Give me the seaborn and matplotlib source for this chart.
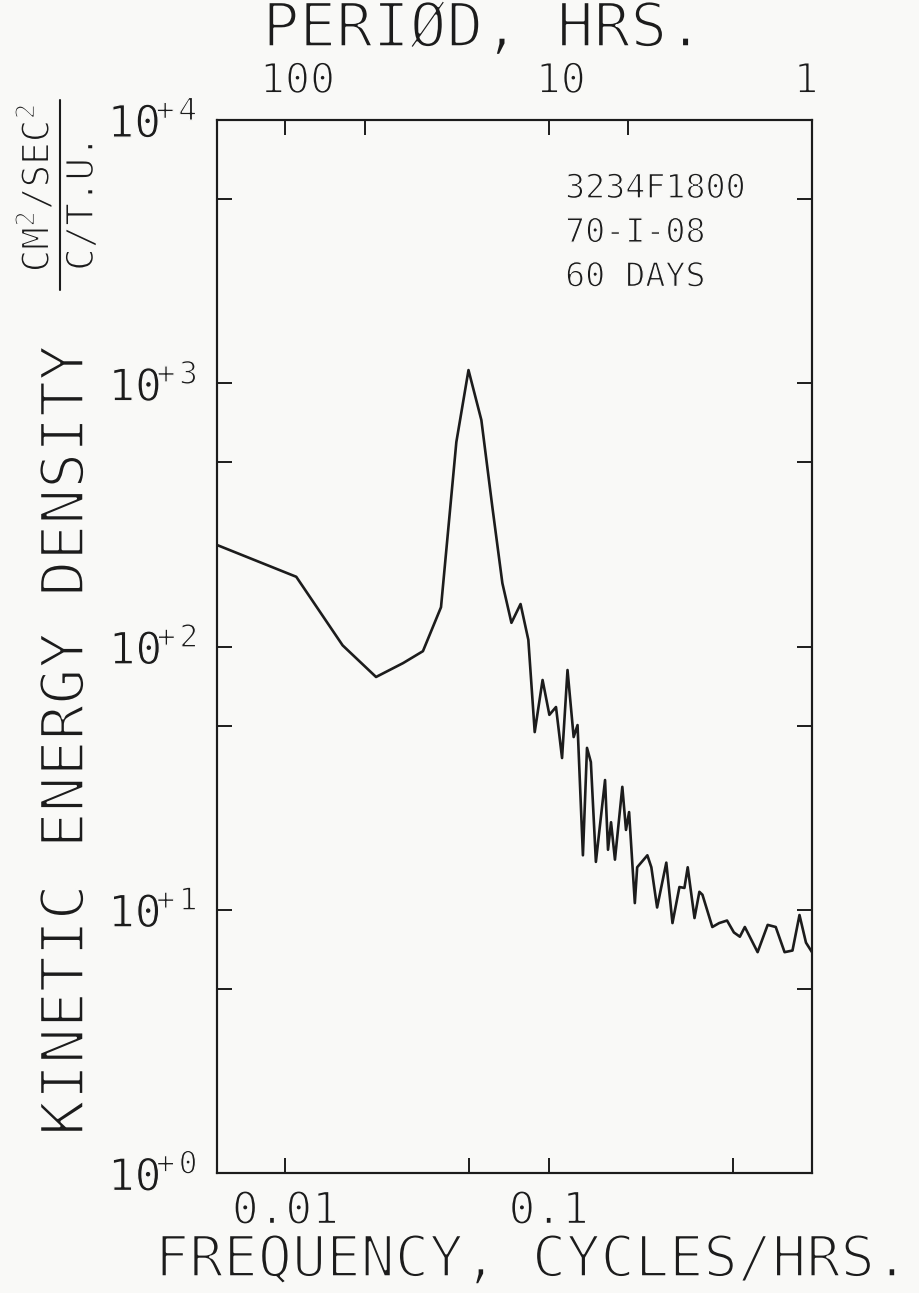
import numpy as np
import pandas as pd
import matplotlib
matplotlib.use("Agg")
import matplotlib.pyplot as plt
import matplotlib.patheffects as pe
import seaborn as sns
from matplotlib.ticker import NullLocator
from matplotlib.lines import Line2D
from matplotlib.transforms import ScaledTranslation

# ---------------- data ----------------
freq = [0.0055, 0.011, 0.0165, 0.0221, 0.028, 0.0333, 0.039, 0.0446, 0.0496,
        0.0555, 0.0611, 0.0667, 0.0722, 0.0782, 0.0837, 0.0885, 0.0948, 0.1006,
        0.1066, 0.1124, 0.1179, 0.1244, 0.1287, 0.1349, 0.1398, 0.1446, 0.1511,
        0.1637, 0.1680, 0.1725, 0.1785, 0.1904, 0.1966, 0.2020, 0.2124, 0.2168,
        0.2370, 0.2454, 0.2581, 0.2797, 0.2952, 0.3137, 0.3277, 0.3373, 0.3579,
        0.3735, 0.3837, 0.4183, 0.4441, 0.4757, 0.5051, 0.5321, 0.5558, 0.6215,
        0.6787, 0.7282, 0.7868, 0.8431, 0.8963, 0.9487, 1.0]
energy = [243, 184, 101, 76.6, 86.5, 96, 141, 598, 1122,
          725, 339, 174, 123, 145, 106, 47.3, 74.6, 55,
          58.9, 37.7, 81.4, 45.3, 50.3, 16.1, 41.2, 36.4, 15.2,
          31.1, 16.9, 21.5, 15.5, 29.3, 20.1, 23.5, 10.6, 14.5,
          16.1, 14.5, 10.2, 15.1, 8.9, 12.2, 12.1, 14.5, 9.3,
          11.7, 11.4, 8.6, 8.9, 9.1, 8.2, 7.9, 8.6, 6.9,
          8.76, 8.6, 6.9, 7.0, 9.55, 7.5, 6.9]

x_ticks = [0.01, 0.05, 0.1, 0.5]
x_ticklabels = ["0.01", "", "0.1", ""]
top_periods = [100, 50, 10, 5, 1]
top_ticklabels = ["100", "", "10", "", "1"]
y_major = [1, 10, 100, 1000, 10000]
y_major_labels = [r"$10^{\!\!\!+0}$", r"$10^{\!\!\!+1}$", r"$10^{\!\!\!+2}$",
                  r"$10^{\!\!\!+3}$", r"$10^{\!\!\!+4}$"]
y_minor = [5, 50, 500, 5000]

info_lines = ["3234F1800", "70-I-08", "60 DAYS"]

# ---------------- style ----------------
INK = "#1c1c1c"
BG = "#f9f9f7"
sns.set_theme(style="ticks")
plt.rcParams["font.family"] = ["DejaVu Sans Mono", "DejaVu Sans"]
plt.rcParams["mathtext.fontset"] = "custom"
plt.rcParams["mathtext.rm"] = "DejaVu Sans Mono"
plt.rcParams["mathtext.it"] = "DejaVu Sans Mono"
plt.rcParams["mathtext.default"] = "regular"
plt.rcParams["text.color"] = INK
plt.rcParams["axes.edgecolor"] = INK


def thin(width):
    return [pe.Stroke(linewidth=width, foreground=BG)]


W, H = 919, 1293
fig = plt.figure(figsize=(W / 100, H / 100), dpi=100, facecolor=BG)

L, R, T, B = 217, 812, 120, 1173
ax = fig.add_axes([L / W, 1 - B / H, (R - L) / W, (B - T) / H])
ax.set_facecolor(BG)

df = pd.DataFrame({"freq": freq, "energy": energy})
sns.lineplot(data=df, x="freq", y="energy", ax=ax, color=INK, lw=1.9,
             estimator=None, sort=False, legend=False)

ax.set_xscale("log")
ax.set_yscale("log")
ax.set_xlim(0.0055, 1.0)
ax.set_ylim(1, 1e4)
ax.set_xlabel("")
ax.set_ylabel("")

ax.set_xticks(x_ticks, labels=x_ticklabels)
ax.xaxis.set_minor_locator(NullLocator())
ax.set_yticks(y_major, labels=y_major_labels)
ax.set_yticks(y_minor, minor=True)
ax.tick_params(axis="both", which="both", direction="in", length=11, width=1.4,
               color=INK, top=False, right=True, left=True, bottom=True)
ax.tick_params(axis="x", labelsize=32, pad=12, labelcolor=INK)
ax.tick_params(axis="y", which="major", labelsize=32, pad=14, labelcolor=INK)
for s in ax.spines.values():
    s.set_linewidth(1.5)
    s.set_color(INK)
    s.set_visible(True)
for t in ax.get_xticklabels():
    t.set_path_effects(thin(1.3))
for t in ax.get_yticklabels():
    t.set_path_effects(thin(0.9))

ax2 = ax.twiny()
ax2.set_xscale("log")
ax2.set_xlim(ax.get_xlim())
ax2.set_xticks([1.0 / p for p in top_periods], labels=top_ticklabels)
ax2.xaxis.set_minor_locator(NullLocator())
ax2.tick_params(axis="x", direction="in", length=11, width=1.4, color=INK,
                labelsize=30, pad=13, labelcolor=INK)
for s in ax2.spines.values():
    s.set_linewidth(1.5)
    s.set_color(INK)
top_shift = [0.12, 0, 0.12, 0, -0.06]
for t, dx in zip(ax2.get_xticklabels(), top_shift):
    t.set_transform(t.get_transform() + ScaledTranslation(dx, 0, fig.dpi_scale_trans))
    t.set_path_effects(thin(1.3))

# info text block
for i, line in enumerate(info_lines):
    ax.text(0.585, 0.935 - i * 0.042, line, transform=ax.transAxes,
            fontsize=24, ha="left", va="center", color=INK,
            path_effects=thin(0.9))


def fx(px):
    return px / W


def fy(py):
    return 1 - py / H


fig.text(fx(483), fy(30), "PERIØD, HRS.", fontsize=44, ha="center",
         va="center", path_effects=thin(1.8))
fig.text(fx(533), fy(1261), "FREQUENCY, CYCLES/HRS.", fontsize=41,
         ha="center", va="center", path_effects=thin(1.8))
fig.text(fx(67), fy(740), "KINETIC ENERGY DENSITY", fontsize=43, rotation=90,
         ha="center", va="center", path_effects=thin(1.8))

# units fraction
fig.text(fx(57), fy(188), r"CM$^2$/SEC$^2$", fontsize=27, rotation=90,
         ha="right", va="center", path_effects=thin(1.1))
fig.add_artist(Line2D([fx(60), fx(60)], [fy(100), fy(290)],
                      transform=fig.transFigure, color=INK, lw=1.5))
fig.text(fx(65), fy(203), "C/T.U.", fontsize=27, rotation=90,
         ha="left", va="center", path_effects=thin(1.1))

fig.savefig("out.png", dpi=100, facecolor=BG)
